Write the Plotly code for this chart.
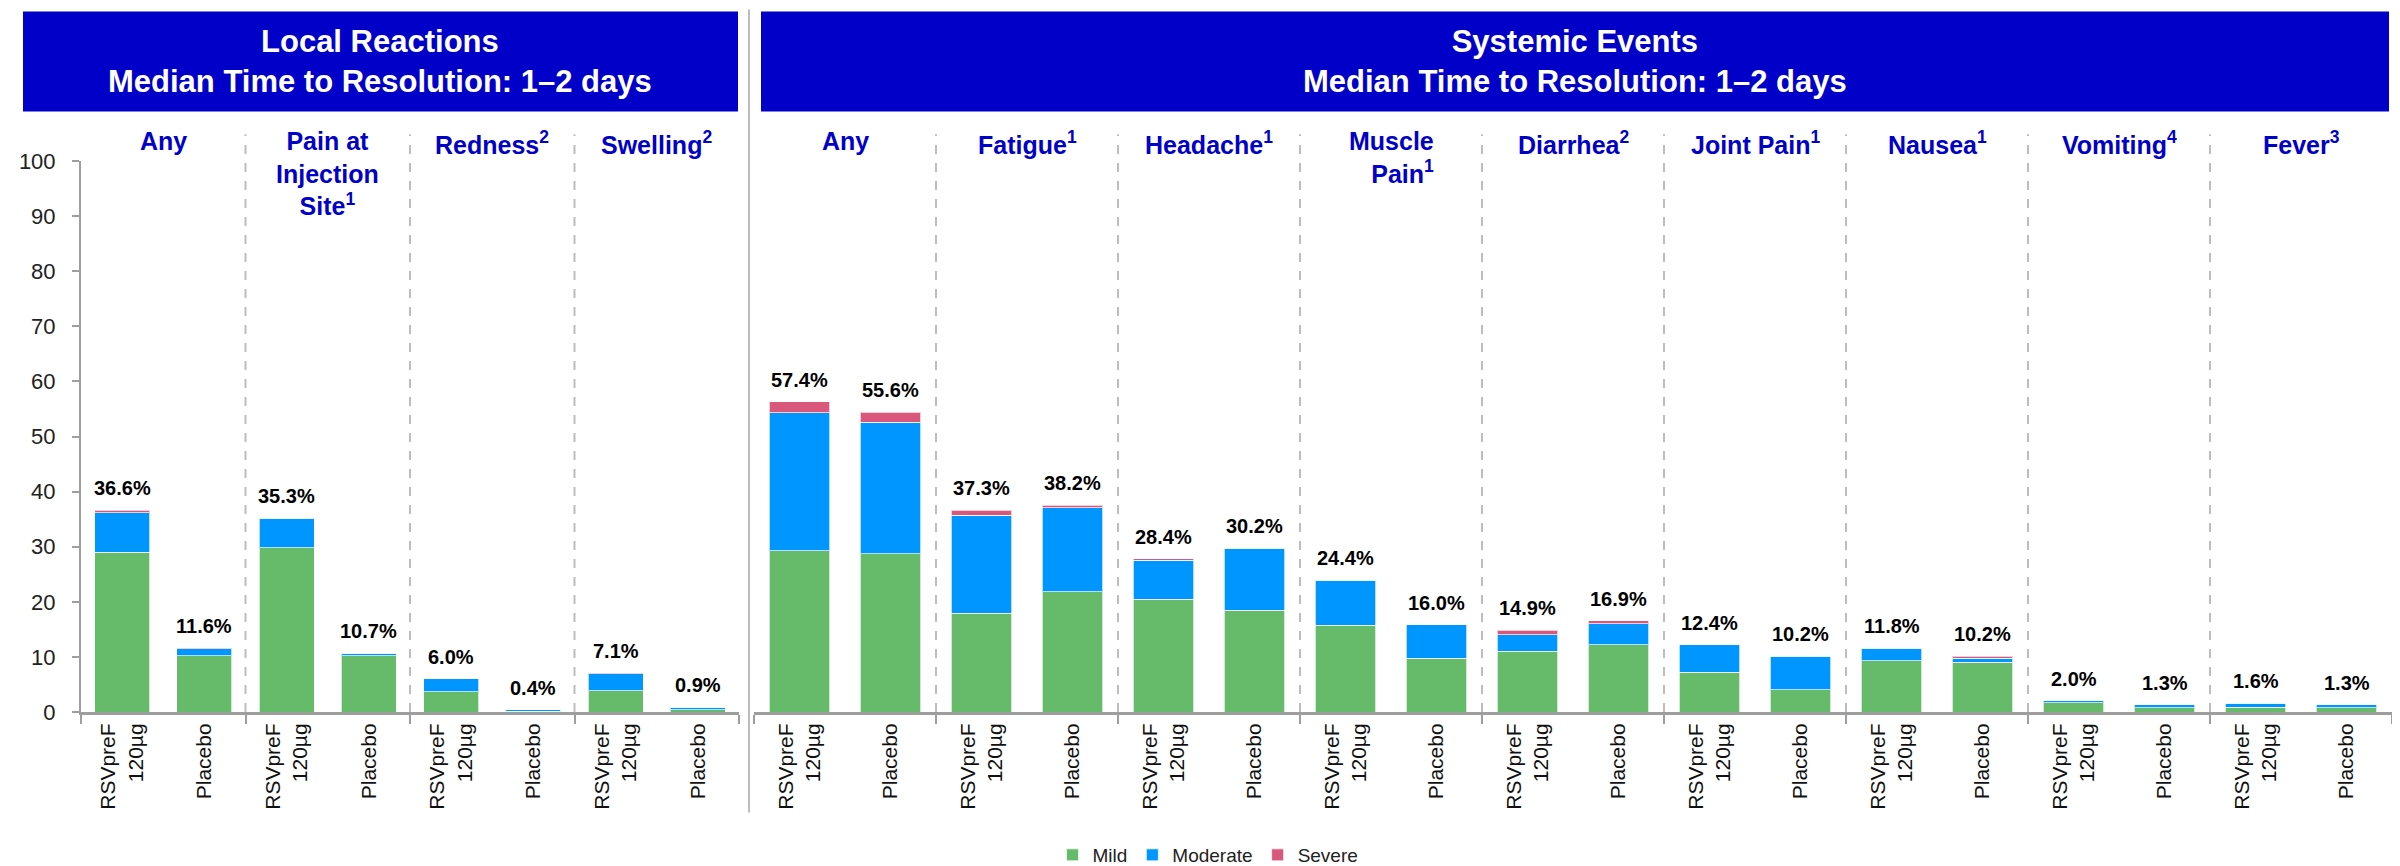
import plotly.graph_objects as go

# ---------------- data ----------------
arms = ["RSVpreF<br>120µg", "Placebo"]

local_groups = ["Any", "Pain at<br>Injection<br>Site<sup>1</sup>", "Redness<sup>2</sup>", "Swelling<sup>2</sup>"]
local_mild = [29.0, 10.2, 29.8, 10.2, 3.7, 0.1, 3.9, 0.4]
local_moderate = [7.2, 1.3, 5.4, 0.5, 2.3, 0.3, 3.0, 0.5]
local_severe = [0.4, 0.1, 0.1, 0.0, 0.0, 0.0, 0.2, 0.0]
local_labels = ["36.6%", "11.6%", "35.3%", "10.7%", "6.0%", "0.4%", "7.1%", "0.9%"]

sys_groups = ["Any", "Fatigue<sup>1</sup>", "Headache<sup>1</sup>", "Muscle<br>Pain<sup>1</sup>",
              "Diarrhea<sup>2</sup>", "Joint Pain<sup>1</sup>", "Nausea<sup>1</sup>",
              "Vomiting<sup>4</sup>", "Fever<sup>3</sup>"]
sys_mild = [29.3, 28.7, 17.9, 21.8, 20.5, 18.5, 15.7, 9.8, 11.0, 12.2, 7.2, 4.0, 9.3, 9.0, 1.7, 0.8, 0.9, 0.8]
sys_moderate = [25.0, 23.9, 17.8, 15.3, 7.0, 11.2, 8.2, 6.0, 3.0, 3.8, 5.0, 6.1, 2.3, 0.8, 0.3, 0.5, 0.7, 0.5]
sys_severe = [2.0, 1.8, 0.9, 0.4, 0.3, 0.1, 0.0, 0.0, 0.8, 0.6, 0.0, 0.0, 0.0, 0.3, 0.0, 0.0, 0.0, 0.0]
sys_labels = ["57.4%", "55.6%", "37.3%", "38.2%", "28.4%", "30.2%", "24.4%", "16.0%", "14.9%",
              "16.9%", "12.4%", "10.2%", "11.8%", "10.2%", "2.0%", "1.3%", "1.6%", "1.3%"]

panel_titles = ["Local Reactions<br>Median Time to Resolution: 1\u20132 days",
                "Systemic Events<br>Median Time to Resolution: 1\u20132 days"]
y_ticks = [0, 10, 20, 30, 40, 50, 60, 70, 80, 90, 100]

severity_names = ["Mild", "Moderate", "Severe"]
severity_colors = ["#66BB6A", "#0096FF", "#D9577A"]

# ---------------- layout constants ----------------
W, H = 2400, 866
FONT = "Liberation Sans, Arial, sans-serif"
BLUE = "#0000C8"
TOP_PX, BOT_PX = 153, 709.5


def py(p):  # pixel row -> paper y
    return (BOT_PX - p) / (BOT_PX - TOP_PX)


fig = go.Figure()

panels = [
    dict(xa="x", ya="y", groups=local_groups, data=[local_mild, local_moderate, local_severe],
         labels=local_labels, legend=True),
    dict(xa="x2", ya="y2", groups=sys_groups, data=[sys_mild, sys_moderate, sys_severe],
         labels=sys_labels, legend=False),
]

annotations = []
shapes = []
for p in panels:
    n = len(p["labels"])
    xs = list(range(n))
    for name, color, vals in zip(severity_names, severity_colors, p["data"]):
        fig.add_trace(go.Bar(
            x=xs, y=vals, name=name, marker=dict(color=color, line=dict(color="rgba(255,255,255,0.7)", width=1)),
            xaxis=p["xa"], yaxis=p["ya"], showlegend=p["legend"], legendgroup=name,
        ))
    totals = [sum(v) for v in zip(*p["data"])]
    for i, (t, lab) in enumerate(zip(totals, p["labels"])):
        annotations.append(dict(x=i, y=t, xref=p["xa"], yref=p["ya"], text="<b>" + lab + "</b>",
                                showarrow=False, xanchor="center", yanchor="bottom", yshift=9,
                                font=dict(family=FONT, size=20, color="#000000")))
    for g, gname in enumerate(p["groups"]):
        annotations.append(dict(x=2 * g + 0.5, y=py(117), xref=p["xa"], yref="paper",
                                text="<b>" + gname + "</b>", showarrow=False,
                                xanchor="center", yanchor="top",
                                align="right" if "Muscle" in gname else "center",
                                font=dict(family=FONT, size=25, color=BLUE)))
        if g > 0:
            shapes.append(dict(type="line", xref=p["xa"], yref="paper", x0=2 * g - 0.5, x1=2 * g - 0.5,
                               y0=0, y1=py(126), line=dict(color="#BDBDBD", width=2, dash="dash")))

# header boxes
box_x = [(15 / W, 730 / W), (753 / W, 2381 / W)]
for (x0, x1), title in zip(box_x, panel_titles):
    shapes.append(dict(type="rect", xref="paper", yref="paper", x0=x0, x1=x1, y0=py(103), y1=py(2),
                       fillcolor=BLUE, line=dict(width=0), layer="below"))
    annotations.append(dict(x=(x0 + x1) / 2, y=py(53), xref="paper", yref="paper", text="<b>" + title + "</b>",
                            showarrow=False, xanchor="center", yanchor="middle",
                            font=dict(family=FONT, size=31, color="white")))

# solid separator between panels
shapes.append(dict(type="line", xref="paper", yref="paper", x0=741 / W, x1=741 / W, y0=py(811), y1=py(0),
                   line=dict(color="#BDBDBD", width=2)))

axis_common = dict(showgrid=False, zeroline=False, showline=True, linecolor="#9E9E9E", linewidth=3,
                   ticks="", tickangle=-90, tickfont=dict(family=FONT, size=21, color="#111111"),
                   minor=dict(ticks="outside", tick0=-0.5, dtick=2, ticklen=9, tickwidth=2, tickcolor="#9E9E9E"))

fig.update_layout(
    width=W, height=H, autosize=False,
    margin=dict(l=0, r=0, t=TOP_PX, b=H - BOT_PX),
    plot_bgcolor="white", paper_bgcolor="white",
    barmode="stack", bargap=0.33,
    xaxis=dict(domain=[73 / W, 731 / W], range=[-0.5, 7.5], anchor="y",
               tickmode="array", tickvals=list(range(8)), ticktext=arms * 4, **axis_common),
    xaxis2=dict(domain=[746 / W, 2384 / W], range=[-0.5, 17.5], anchor="y2",
                tickmode="array", tickvals=list(range(18)), ticktext=arms * 9, **axis_common),
    yaxis=dict(range=[0, 100], tickmode="array", tickvals=y_ticks, showgrid=False, zeroline=False,
               showline=True, linecolor="#9E9E9E", linewidth=2, ticks="outside", ticklen=7,
               tickcolor="#9E9E9E", tickwidth=2, ticklabelstandoff=12,
               tickfont=dict(family=FONT, size=22, color="#222222"), anchor="x"),
    yaxis2=dict(range=[0, 100], visible=False, anchor="x2"),
    legend=dict(orientation="h", x=0.5, xanchor="center", y=py(854), yanchor="middle",
                font=dict(family=FONT, size=19, color="#222222"), traceorder="normal"),
    annotations=annotations, shapes=shapes,
)

fig.write_html("out.html")
